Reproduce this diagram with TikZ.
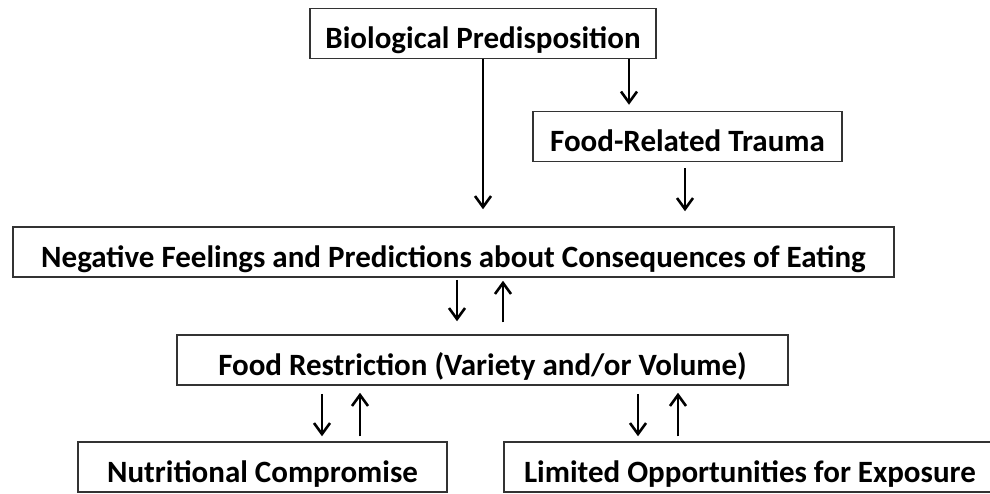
\documentclass[tikz,border=0pt]{standalone}
\usepackage{fontspec}
\setmainfont{Carlito}
\usetikzlibrary{arrows.meta}

\begin{document}
\begin{tikzpicture}[x=1pt, y=-1pt, >={Straight Barb[length=11pt,width=16pt]},
  caja/.style={draw=black!80, line width=1.5pt, inner sep=0pt, minimum height=50pt,
    text height=30pt, text depth=0pt, font=\fontsize{31}{36}\selectfont\bfseries},
  flecha/.style={->, line width=2.6pt}]
  \useasboundingbox (0,0) rectangle (990,493);

  % Cajas
  \node[caja, minimum width=346pt] (bio) at (483,33.5) {Biological Predisposition};
  \node[caja, minimum width=309pt] (trauma) at (687.5,136.5) {Food-Related Trauma};
  \node[caja, minimum width=881pt] (neg) at (453.5,252) {Negative Feelings and Predictions about Consequences of Eating};
  \node[caja, minimum width=611pt] (restr) at (482.5,360) {Food Restriction (Variety and/or Volume)};
  \node[caja, minimum width=369pt] (nutr) at (262.5,467) {Nutritional Compromise};
  \node[caja, minimum width=492pt] (lim) at (750,467) {Limited Opportunities for Exposure};

  % Flechas desde la predisposición
  \draw[flecha, shorten >=17pt] (bio.south) -- (bio.south |- neg.north);
  \draw[flecha, shorten >=6pt] ([xshift=146pt]bio.south) -- ([xshift=146pt]bio.south |- trauma.north);
  \draw[flecha, shorten <=6pt, shorten >=15pt] ([xshift=-2.5pt]trauma.south) -- ([xshift=-2.5pt]trauma.south |- neg.north);

  % Ida y vuelta con la restricción
  \draw[flecha, shorten <=2pt, shorten >=13pt] ([xshift=3.5pt]neg.south) -- ([xshift=3.5pt]neg.south |- restr.north);
  \draw[flecha, shorten <=12pt, shorten >=3pt] ([xshift=49.5pt]neg.south |- restr.north) -- ([xshift=49.5pt]neg.south);

  % Consecuencias abajo
  \draw[flecha, shorten <=8pt, shorten >=5pt] ([xshift=-160.5pt]restr.south) -- ([xshift=-160.5pt]restr.south |- nutr.north);
  \draw[flecha, shorten <=5pt, shorten >=7pt] ([xshift=-122.5pt]restr.south |- nutr.north) -- ([xshift=-122.5pt]restr.south);
  \draw[flecha, shorten <=8pt, shorten >=5pt] ([xshift=155.5pt]restr.south) -- ([xshift=155.5pt]restr.south |- lim.north);
  \draw[flecha, shorten <=5pt, shorten >=7pt] ([xshift=195.5pt]restr.south |- lim.north) -- ([xshift=195.5pt]restr.south);
\end{tikzpicture}
\end{document}
